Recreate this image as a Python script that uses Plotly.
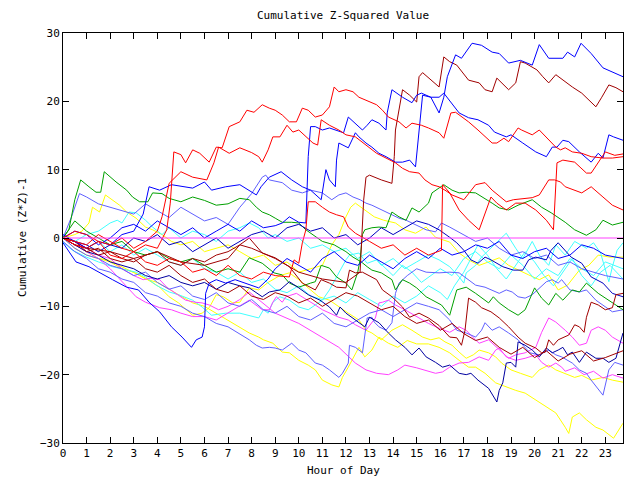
import plotly.graph_objects as go

# ---- data: (hour, cumulative value) pairs ----
red_a = [(0,0),(0.5,-0.5),(1,-1),(1.5,0.5),(2,-0.5),(2.5,-1.5),(3,-2),(3.5,-1),(4,-1.5),(4.4,1.2),(4.55,5.1),(4.7,12.6),(5,12.2),(5.2,11),(5.5,12.9),(5.8,12.4),(6.2,11.1),(6.5,13.3),(6.75,13.2),(7.05,16.3),(7.5,17),(7.8,18.7),(8.1,18.4),(8.45,19.5),(8.75,19),(9,18.7),(9.3,18),(9.6,17),(9.9,17),(10.15,19),(10.4,18.7),(10.7,17.7),(11,18),(11.3,19.2),(11.5,22.1),(11.7,21.4),(12,21.7),(12.3,21.4),(12.55,20.6),(12.85,20.2),(13.3,19.5),(13.55,18.7),(13.8,17.7),(14.25,17),(14.55,16.1),(14.8,16.8),(15.2,16.5),(15.5,16.1),(15.95,15.4),(16.15,14.6),(16.45,18.3),(16.65,18.4),(17.2,17),(17.6,15.8),(18.2,13.9),(18.4,13.9),(18.7,14.6),(18.9,14.1),(19.3,16.1),(19.45,15.8),(19.9,15.1),(20.2,15.8),(20.6,14.3),(20.9,13.3),(21.1,12.9),(21.3,13.2),(21.6,12.6),(22,12.4),(22.4,11.9),(22.9,11.7),(23.3,11.7),(23.75,11.9)]
red_b = [(0,0),(0.5,1),(1,0.5),(1.5,-0.5),(2,-1),(2.5,0),(3,-1.5),(3.5,-0.5),(4,1),(4.2,3.1),(4.5,8),(5,9.7),(5.5,8.9),(6.1,8.5),(6.4,11),(6.6,13.3),(7.05,12.4),(7.5,13.2),(8,12.5),(8.3,11.9),(8.45,11.1),(8.7,12.9),(8.9,14.8),(9.2,14.8),(9.5,16.5),(9.75,15.5),(10,15.8),(10.3,14.8),(10.6,13.9),(10.8,13.6),(10.95,17.3),(11.3,16.5),(11.7,15.8),(12,15.1),(12.4,14.8),(12.85,13.6),(13.3,12.4),(13.7,11.7),(14.1,11),(14.4,10.2),(14.7,9.7),(15.1,9.5),(15.35,8.5),(15.65,7.8),(15.95,7.5),(16.2,7),(16.5,6.3),(17,5.6),(17.5,7.8),(17.9,8.1),(18.2,7),(18.8,5.3),(19.1,5.6),(19.9,5.9),(20.2,6.3),(20.6,8.5),(20.85,8.5),(21.1,8.2),(21.3,7.5),(22,6.6),(22.4,7.5),(22.9,6),(23.3,4.8),(23.75,4.1)]
red_c = [(0,0),(0.5,-1),(1,-1.5),(1.5,-0.5),(2,-2.5),(2.5,-3),(3,-2),(3.5,-3.5),(4,-4),(4.5,-3),(5,-3.5),(5.5,-5),(6,-4.5),(6.5,-5.5),(7,-4),(7.5,-5.5),(8,-6),(8.5,-5),(9,-5.5),(9.6,-5.7),(9.8,-3.2),(10,-3.7),(10.15,-0.7),(10.3,1.2),(10.4,5.3),(10.7,5.3),(11,4.5),(11.3,3.8),(11.6,3.4),(11.9,3.1),(12.1,1.6),(12.4,0.7),(13,-0.5),(13.5,-1.5),(14,-1),(14.5,-2.5),(15,-1.5),(15.5,-2.5),(16.05,-1.8),(16.1,7.8),(16.4,6.6),(16.8,4.1),(17.2,2.6),(17.65,1.2),(18.15,6),(18.4,5.1),(18.8,4.1),(19.2,5.1),(19.6,5.1),(20.05,4.1),(20.5,2.6),(20.8,1.2),(20.95,11),(21.2,11.4),(21.7,11.1),(22.2,9.5),(22.4,9.5),(22.7,11),(23,12.6),(23.4,12.1),(23.75,12.3)]
darkred_a = [(0,0),(0.5,-0.5),(1,-1.5),(2,-2),(3,-3),(4,-2),(5,-3.5),(6,-4),(7,-3),(7.5,-1),(8,-1.5),(9,-3),(10,-5),(11,-6),(12,-6.5),(12.6,-5),(12.75,5.5),(12.85,8.9),(13,9.2),(13.5,8.5),(13.95,8),(14.05,11.9),(14.1,15.8),(14.4,21.7),(14.7,20.9),(15,19.9),(15.1,23.6),(15.25,24.2),(15.95,22.1),(16.15,26.5),(16.4,25.8),(16.7,25.3),(17.2,23.1),(17.65,22.7),(17.9,21.7),(18.2,21.4),(18.4,23.4),(18.6,22.7),(18.9,21.7),(19.2,22.7),(19.4,25.8),(19.6,25.6),(20.1,24.6),(20.35,23.6),(20.6,22.7),(20.9,23.9),(21.2,23.1),(21.6,22.1),(22,21.2),(22.6,19.2),(22.85,20.6),(23.15,22.4),(23.45,22),(23.75,21.4)]
darkred_b = [(0,0),(0.5,-1),(1,-1.5),(1.5,-2.5),(2,-2),(2.5,-3),(3,-3.5),(3.5,-2.5),(4,-2),(4.5,-3.5),(5,-4),(5.5,-3),(6,-3.5),(6.5,-2.5),(7,-2),(7.5,-1),(7.9,0),(8.45,-2.2),(9,-2.9),(9.6,-4.2),(10.15,-6.6),(10.7,-7.6),(10.95,-6.1),(11.3,-6.6),(11.6,-7.2),(12,-7.3),(12.15,-4.7),(12.4,-5.1),(12.7,-5),(13.3,-6.1),(13.55,-7.6),(13.95,-8.6),(14.4,-10.1),(14.7,-11.6),(15.1,-11),(15.5,-11.7),(15.95,-12.8),(16.4,-14.5),(16.7,-14.6),(16.9,-15.7),(17.05,-13.5),(17.2,-8.8),(17.5,-9.4),(17.75,-10.2),(18.15,-10.8),(18.5,-11.7),(18.9,-13),(19.3,-14.5),(19.6,-15.4),(20.05,-16.1),(20.3,-16.8),(20.45,-16.7),(20.6,-14.9),(20.8,-15.7),(21,-14.9),(21.25,-14.5),(21.45,-14.2),(21.7,-12.7),(21.9,-13),(22.1,-13.8),(22.2,-11.6),(22.4,-9.4),(22.7,-9.8),(23,-10.5),(23.3,-10.2),(23.45,-8.3),(23.75,-8.1)]
darkred_c = [(0,0),(0.5,-0.5),(1,-2),(1.5,-1.5),(2,-3),(2.5,-3.5),(3,-3),(3.5,-4.5),(4,-5),(4.5,-4),(5,-5.5),(5.5,-6.5),(6,-6),(6.5,-7.5),(7,-8),(7.5,-7),(8,-8.5),(8.5,-9),(9,-8),(9.5,-8.5),(10,-9.5),(10.5,-8.8),(11,-10),(11.5,-9),(12,-8),(12.5,-8.5),(13,-9.5),(13.5,-10.5),(14,-10),(14.5,-11.5),(15,-12.5),(15.5,-12),(16,-13.5),(16.5,-12.5),(17,-14),(17.5,-15),(18,-14.5),(18.5,-16),(19,-17),(19.5,-16),(20,-17.5),(20.5,-16.5),(21,-18),(21.5,-17),(22,-16.5),(22.5,-18),(23,-17.5),(23.75,-16.5)]
blue_a = [(0,0.5),(0.5,-0.5),(1,-1.5),(1.5,-0.5),(2,-1),(2.5,0.5),(3,1),(3.4,3.5),(3.65,7.5),(4.1,7),(4.6,7.8),(5.5,7.3),(6,8.2),(6.3,7),(6.9,7.5),(7.5,7.8),(8.2,6.3),(8.4,7.5),(8.75,8.9),(9.25,9.7),(9.7,8.5),(10.15,7.5),(10.5,7),(10.95,5.6),(11.15,10),(11.3,8.5),(11.55,7.5),(11.6,11.4),(11.7,13.9),(12.1,13.2),(12.4,15.4),(12.55,14.8),(12.85,13.9),(13.1,13.3),(13.4,12.4),(13.7,11.9),(14.1,11.1),(14.4,11.1),(14.7,11.4),(14.95,10.4),(15.1,15.8),(15.25,20.9),(15.6,20.6),(15.95,18.3),(16.15,20.6),(16.3,23.6),(16.65,26.8),(16.9,26.3),(17.35,28.5),(17.75,28.2),(18.2,27.2),(18.5,27),(18.9,25.6),(19.4,26),(19.9,25.3),(20.2,28.3),(20.6,26.3),(21.2,26.3),(21.4,27.2),(21.7,26.5),(21.97,28.5),(22.4,27),(22.9,24.9),(23.3,24.3),(23.75,23.6)]
blue_b = [(0,0),(0.5,1),(1,0.5),(1.5,-1),(2,0),(2.5,1.5),(3,2),(3.5,1),(4,2.5),(4.5,1.5),(5,0.5),(5.5,1.5),(6,0),(6.5,1),(7,2),(7.5,1),(8,2.5),(8.5,1.5),(9,1.8),(9.3,2.2),(9.6,3.1),(10,2.3),(10.3,2.2),(10.4,11.9),(10.5,16.3),(10.7,16.3),(11,15.8),(11.3,16.1),(11.6,15.8),(11.9,15.4),(12.1,17.7),(12.4,16.8),(12.7,15.8),(12.9,16.5),(13.1,17.3),(13.4,16.8),(13.7,15.8),(13.75,18.3),(13.95,21.7),(14.4,20.6),(14.8,19.8),(15,20.9),(15.2,21.2),(15.6,20.6),(15.95,20.6),(16.15,21.2),(16.8,18.3),(17.2,17.6),(17.6,17.3),(18.05,16.5),(18.3,15.5),(18.8,14.8),(19,15.1),(19.5,13.9),(20.05,12.6),(20.5,11.9),(20.75,13.3),(20.95,13.3),(21.2,14.3),(21.45,14.1),(21.9,12.6),(22.4,11.1),(22.7,12.4),(22.9,11.7),(23.15,15.1),(23.35,14.8),(23.75,14.3)]
blue_c = [(0,-0.7),(0.55,-3.5),(1.1,-4.2),(1.5,-5),(2.1,-6.1),(2.7,-7.2),(3.2,-7.6),(3.65,-9.4),(4.1,-10.8),(4.6,-13),(5.05,-14.5),(5.45,-16),(5.65,-14.9),(5.9,-14.5),(6,-13),(6.05,-8.1),(6.2,-6.6),(6.5,-6.1),(6.9,-6.6),(7.3,-6.1),(7.7,-6.6),(8.3,-7.3),(8.7,-6),(9,-4.5),(9.5,-3),(10,-4),(10.5,-5),(11,-3),(11.5,-2),(12,-3.5),(12.5,-4),(13,-2.5),(13.5,-3.5),(14,-4.5),(14.5,-3),(15,-2),(15.5,-3),(16,-1.5),(16.5,-2.5),(17,-2),(17.5,-1),(18,-1.5),(18.5,-0.5),(19,-2.5),(19.5,-3),(20,-2),(20.5,-1.5),(21,-3),(21.5,-2.5),(22,-1),(22.5,-1.5),(23,-2.5),(23.75,-3)]
navy_a = [(0,0),(0.5,-1),(1,-2),(1.5,-2.5),(2,-3.5),(2.5,-4),(3,-4.5),(3.5,-5.5),(4,-6),(4.5,-5.5),(5,-6.5),(5.5,-7),(6,-6.5),(6.5,-7.5),(7,-6.5),(7.5,-7),(7.9,-7.3),(8.45,-8.6),(8.75,-7.9),(9.2,-7.6),(9.6,-6.4),(10,-7.3),(10.4,-8.3),(10.9,-9.1),(11.3,-10.1),(11.6,-11.3),(11.75,-10.1),(12,-11),(12.4,-12),(12.8,-13),(13,-11.6),(13.4,-12.4),(13.8,-13.9),(14.1,-14.9),(14.5,-16),(14.8,-17.1),(15.1,-16.1),(15.4,-17.4),(15.8,-18.2),(16.1,-18.9),(16.4,-18.6),(16.8,-19.8),(17.1,-20),(17.3,-19.8),(17.6,-20.8),(18.05,-22),(18.4,-24),(18.5,-22.3),(18.65,-21.2),(18.8,-18.3),(19,-18.2),(19.2,-18.9),(19.3,-15.2),(19.6,-15.7),(19.9,-16.4),(20.2,-17.4),(20.5,-16.1),(20.75,-16.8),(21,-16.4),(21.2,-16),(21.4,-17.1),(21.6,-16.7),(21.9,-18.2),(22.2,-16.7),(22.6,-17.6),(22.9,-17.6),(23.15,-18.2),(23.45,-17.6),(23.75,-13.9)]
navy_b = [(0,0),(0.5,-0.5),(1,-1),(1.5,-2),(2,-1),(2.5,-1.5),(3,0),(3.5,-0.5),(4,0.5),(4.5,-1),(5,-0.5),(5.5,-2),(6,-1),(6.5,0),(7,-1.5),(7.5,-0.5),(8,0.5),(8.5,1),(9,0),(9.5,1.5),(10,2),(10.5,1),(11,1.5),(11.5,0),(12,0.5),(12.5,-1),(13,0),(13.5,1.5),(14,0.5),(14.5,1.5),(15,2.5),(15.5,2),(15.95,1.2),(16.4,0.1),(16.7,-0.7),(17,-1.8),(17.3,-3.2),(17.6,-3.7),(17.9,-2.8),(18.15,-3.2),(18.65,-4.2),(19.1,-4.7),(19.5,-4.7),(19.75,-3.2),(20.05,-2.8),(20.5,-3.2),(20.7,-1.8),(21,-0.7),(21.3,-1.8),(21.55,-2.8),(22,-3.7),(22.4,-5.7),(22.9,-6.6),(23.3,-8.1),(23.75,-8.6)]
lightblue_a = [(0,-0.5),(0.5,-2),(1,-3),(1.5,-4.5),(2,-5),(2.5,-6),(3,-6.5),(3.5,-8),(4,-8.5),(4.5,-9.5),(5,-10),(5.5,-11),(6,-11.5),(6.5,-12.5),(7,-13),(7.5,-14),(7.9,-14.9),(8.2,-15.7),(8.45,-16.1),(8.75,-16),(9,-16.1),(9.3,-16.4),(9.7,-15.4),(10,-16.4),(10.3,-16.8),(10.7,-18.3),(11,-18.6),(11.3,-19.3),(11.7,-20.4),(11.85,-19.8),(12.1,-18.3),(12.15,-15.7),(12.4,-16),(12.7,-16.8),(12.8,-13.9),(12.9,-11.7),(13.1,-11.6),(13.2,-12.3),(13.4,-13),(13.7,-13.5),(13.95,-12.4),(14.1,-8.1),(14.25,-6.6),(14.6,-5.5),(15,-4.5),(15.4,-5),(15.95,-5.1),(16.4,-5),(16.8,-5.1),(17.2,-6.1),(17.5,-6.9),(17.9,-7.2),(18.2,-7.6),(18.5,-8.1),(18.8,-7.6),(19.05,-7.9),(19.3,-8.6),(19.6,-8.8),(19.9,-8.3),(20.2,-7.3),(20.5,-6.4),(20.75,-6.1),(21,-6.6),(21.15,-6.1),(21.5,-7.6),(21.9,-7.9),(22.2,-7.6),(22.6,-9.1),(23,-10.1),(23.3,-10.8),(23.75,-10.5)]
lightblue_b = [(0,0),(0.5,-1.5),(1,-2.5),(1.5,-3),(2,-4),(2.5,-4.5),(3,-5.5),(3.5,-5),(4,-6.5),(4.5,-7.5),(5,-7),(5.5,-8.5),(6,-9),(6.5,-8),(7,-9.5),(7.5,-10),(8,-9),(8.5,-10.5),(9,-11),(9.5,-10),(10,-11.5),(10.5,-12),(11,-11),(11.5,-12.5),(12,-13),(12.5,-12),(13,-11),(13.5,-10.5),(14,-11.5),(14.5,-10.5),(15,-9.5),(15.5,-10),(15.95,-10.5),(16.4,-12),(16.7,-13.5),(17.1,-13.9),(17.5,-14.5),(17.75,-13.5),(17.9,-12.4),(18.2,-13.5),(18.5,-13),(18.9,-13.9),(19.3,-14.9),(19.8,-16.8),(20.2,-17.1),(20.6,-16.4),(20.9,-17.1),(21.15,-17.4),(21.6,-18.3),(21.9,-19.3),(22.2,-19.8),(22.4,-20.8),(22.9,-23),(23.15,-19.3),(23.4,-18.2),(23.75,-18.6)]
lightblue_c = [(0,0),(0.35,3),(0.7,6.5),(1,6),(1.5,5),(2,4.5),(2.5,4),(3,3.5),(3.5,5),(4,4),(4.5,3),(5,4.5),(5.5,3.5),(6,2.5),(6.5,3),(7,2),(7.5,4.5),(8,6.5),(8.45,8.9),(8.6,9.2),(8.75,8.5),(9.3,8.1),(9.7,7),(10.15,6.6),(10.5,7),(11,6.6),(11.4,5.6),(11.7,6.3),(12,6.6),(12.3,6),(12.6,5.6),(12.85,5.1),(13.1,4.8),(13.55,4.1),(13.95,3.4),(14.25,2.9),(14.55,2.6),(15,1.9),(15.4,1.2),(15.8,0.9),(16.05,2.2),(16.4,1.6),(17,0.5),(17.5,-0.5),(18,0),(18.5,-1.5),(19,-2.5),(19.5,-2),(20,-3),(20.5,-2.5),(21,-4),(21.5,-3.5),(22,-4.5),(22.5,-5),(23,-5.5),(23.75,-6)]
green_a = [(0,0),(0.25,1.2),(0.5,5.6),(0.75,8.5),(1.1,7.5),(1.4,6.7),(1.6,6.7),(1.75,9.7),(2.25,8.2),(2.7,7),(2.95,6),(3.25,5.3),(3.6,5.3),(3.8,6.6),(4.2,6.5),(4.5,5.8),(5,5.3),(5.5,6),(6,5.5),(6.5,4.8),(7,5),(7.5,5.8),(7.9,5.6),(8.2,4.5),(8.45,3.8),(8.75,3.4),(9,2.9),(9.3,2.3),(9.7,2.3),(10,2.2),(10.3,1.2),(10.7,0.3),(11,-0.5),(11.5,-1),(12,-2),(12.3,-2.8),(12.65,-3.5),(12.9,-4.2),(13.1,-4.7),(13.5,-5.1),(13.95,-6.1),(14.1,-7.6),(14.4,-6.1),(14.7,-6.6),(15,-7.3),(15.4,-8.6),(15.8,-9.4),(16.05,-9.8),(16.4,-11.3),(16.7,-7.6),(17.1,-7.2),(17.5,-8.1),(18.05,-9.5),(18.25,-8.6),(18.5,-9.5),(18.9,-10.5),(19.3,-11.3),(19.6,-10.5),(20,-7.3),(20.3,-8.8),(20.6,-9.8),(20.9,-8.1),(21.2,-9.1),(21.6,-7.6),(21.9,-7.9),(22.2,-6.6),(22.7,-8.1),(23.3,-9.4),(23.75,-10.5)]
green_b = [(0,0),(0.3,1.5),(0.5,2.5),(1,1),(1.5,0),(2,-1),(2.5,-0.5),(3,-2),(3.5,-2.5),(4,-2),(4.5,-3),(5,-3.5),(5.5,-3),(6,-4),(6.5,-5),(7,-4.5),(7.5,-5),(7.9,-2.9),(8.45,-3.7),(8.95,-5.1),(9.3,-5.4),(9.6,-6.6),(10,-7.2),(10.5,-6.6),(10.7,-6.4),(10.95,-4),(11.3,-4.4),(11.6,-5.7),(12,-6.6),(12.25,-7.6),(12.5,-5),(12.6,-3.2),(12.7,0.5),(12.8,1.2),(13.1,1.5),(13.4,1.6),(13.7,1.5),(13.95,3.8),(14.25,3.1),(14.55,2.6),(14.8,4.4),(15.1,3.8),(15.5,5.1),(15.65,6.6),(16.15,7.8),(16.5,7),(16.8,6.6),(17.1,6.7),(17.5,6.6),(18.2,5.1),(18.5,4.4),(18.9,4.1),(19.3,4.8),(19.9,5.6),(20.3,4.5),(20.7,3.7),(21.3,2.3),(21.7,1.2),(22.2,0.4),(22.6,1.2),(22.9,2.6),(23.3,1.9),(23.75,2.3)]
cyan_a = [(0,0),(0.5,-0.5),(1,0.5),(1.5,1),(2,2.2),(2.3,2.6),(2.5,2.2),(2.8,3.8),(3.1,3.7),(3.5,2.6),(3.8,1.6),(4.2,0.5),(4.5,1.5),(5,0),(5.5,1),(6,0.5),(6.5,-0.5),(7,1),(7.5,1.5),(7.9,2.2),(8.3,1.5),(8.7,0),(9,0.5),(9.5,-0.5),(10,0),(10.5,-1.5),(11,-1),(11.5,-2),(12,-1.5),(12.5,-3),(13,-2),(13.5,-4),(14,-3),(14.5,-4.5),(15,-3.5),(15.5,-2.5),(15.95,-3.2),(16.4,-4.2),(16.8,-5.7),(17,-6.6),(17.1,-5.1),(17.5,-4),(17.75,-2.8),(18.05,-1.8),(18.5,-0.3),(18.8,0.7),(19.2,-1.5),(19.5,-3),(19.9,-0.5),(20.2,-2.5),(20.6,-4),(20.9,-1),(21.3,-2.5),(21.7,-0.5),(22.2,-1.5),(22.5,-0.7),(22.8,-2.2),(23.15,-6.4),(23.3,-4.2),(23.5,-1.8),(23.75,-0.7)]
cyan_b = [(0,-0.6),(0.4,-1.8),(1,-2.8),(1.5,-3.5),(2.1,-4.2),(2.7,-4.7),(3.1,-5),(3.5,-5.7),(3.95,-6.9),(4.5,-7.9),(4.9,-8.3),(5.5,-9.1),(5.9,-10.1),(6.3,-11.3),(6.9,-11),(7.5,-11),(7.9,-11.3),(8.3,-11.7),(8.5,-10.5),(8.7,-11),(8.9,-9.4),(9.2,-8.6),(9.6,-9.1),(10,-10.1),(10.4,-10.5),(10.7,-9.8),(11,-9.1),(11.3,-7.6),(11.6,-5.7),(12,-3.2),(12.15,-2.5),(12.55,-2.2),(12.9,-3.7),(13.3,-3.2),(13.7,-4.5),(14,-5.5),(14.4,-4),(14.8,-5),(15.2,-6.5),(15.6,-5.5),(16,-4.5),(16.5,-5.5),(17,-3),(17.5,-2),(18,-3.5),(18.5,-4.5),(19,-2.5),(19.5,-4),(20,-6),(20.5,-4.5),(21,-5.5),(21.5,-3),(22,-4.5),(22.5,-5.5),(23,-3.5),(23.75,-4.5)]
cyan_c = [(0,0),(0.5,-1),(1,-1.5),(1.5,-0.5),(2,-2),(2.5,-1),(3,-2.5),(3.5,-1.5),(4,-2.5),(4.5,-3.5),(5,-4),(5.5,-3),(6,-4.5),(6.5,-5),(7,-6),(7.5,-5),(8,-6.5),(8.5,-6),(9,-7.5),(9.5,-8),(10,-7),(10.5,-8.5),(11,-9),(11.5,-8.5),(12,-9.5),(12.5,-8),(13,-9),(13.5,-10),(14,-8.5),(14.5,-9.5),(15,-8.5),(15.5,-7),(16,-8),(16.3,-9),(16.6,-7),(17,-5),(17.3,-3),(17.6,-1),(18,-2.5),(18.4,-4.5),(18.8,-6),(19.2,-4),(19.6,-2),(20,-3.5),(20.4,-5.5),(20.8,-7),(21.2,-5),(21.6,-3),(22,-5.5),(22.4,-7),(22.8,-5),(23.2,-4),(23.75,-6)]
magenta_a = [(0,0),(0.5,-1),(1,-2),(1.5,-3),(2,-4.5),(2.7,-7.2),(3.1,-8.6),(3.5,-9.4),(4.1,-10.2),(4.6,-10.5),(5,-11),(5.5,-11.5),(6,-11.5),(6.5,-12),(7,-11),(7.5,-10),(7.9,-9.1),(8.45,-10.5),(8.75,-10.5),(8.9,-9.4),(9.05,-8.6),(9.3,-9.4),(9.45,-8.6),(9.9,-8.1),(10.15,-8.6),(10.4,-9.1),(10.7,-9.8),(11,-10.5),(11.3,-11),(11.7,-11.6),(12.1,-12),(12.4,-12.7),(12.85,-13.5),(13.25,-11.7),(13.4,-9.5),(13.55,-9.4),(13.8,-9.1),(14.1,-9.8),(14.5,-10.5),(15,-11.5),(15.5,-12.5),(15.95,-13.2),(16.4,-13.8),(16.8,-13),(17.1,-13.5),(17.4,-14.6),(17.65,-15.4),(18.05,-14.9),(18.5,-16.4),(18.9,-17.6),(19.2,-17.1),(19.6,-16.8),(20.05,-16),(20.3,-13.8),(20.6,-11.7),(20.9,-12.3),(21.3,-13.5),(21.6,-14.5),(21.9,-15.7),(22.2,-15.4),(22.4,-13.5),(22.7,-13),(23,-13.5),(23.3,-14.5),(23.75,-15.4)]
magenta_b = [(0,0),(0.5,-0.5),(1,-1.5),(1.5,-2.5),(2,-3),(2.5,-4.5),(3,-5.5),(3.4,-6.1),(3.7,-5.9),(4.1,-6.1),(4.4,-7.2),(4.8,-8.1),(5.2,-9.1),(5.6,-9.4),(5.9,-9.5),(6.2,-9.8),(6.6,-10.5),(7,-10),(7.5,-9),(7.9,-7.9),(8.45,-9.5),(9,-11),(10,-12.5),(11,-14.5),(11.7,-16),(12.4,-18.3),(12.85,-19.3),(13.3,-19.8),(13.8,-20),(14.2,-19.3),(14.5,-18.6),(15,-19),(15.8,-19.8),(16.1,-19.6),(16.4,-18.9),(16.8,-18.3),(17.2,-18.2),(17.65,-17.4),(18.05,-17.9),(18.35,-16.4),(18.5,-16.1),(18.8,-17.4),(19.2,-17.9),(19.6,-17.6),(20.05,-17.1),(20.3,-18.2),(20.6,-18.9),(20.9,-18.3),(21.15,-18.9),(21.3,-19.5),(21.7,-19),(22.1,-20),(22.5,-19.5),(22.9,-20.5),(23.3,-20),(23.75,-20.5)]
yellow_a = [(0,0),(0.5,-1),(1,-2),(1.5,-3),(2,-3.5),(2.5,-4.5),(3,-5),(3.5,-6),(4,-6.5),(4.5,-7.5),(5,-8.5),(5.5,-9.5),(6,-10),(6.5,-11),(7,-12),(7.5,-13),(7.9,-13.9),(8.3,-14.5),(8.5,-14.9),(8.9,-15.4),(9.3,-16.7),(9.6,-16.8),(10,-17.9),(10.4,-18.6),(10.7,-19.3),(11,-20.8),(11.4,-21.5),(11.7,-21.8),(11.85,-20.4),(12.1,-18.9),(12.4,-17.1),(12.55,-16),(12.8,-17.4),(13.1,-16.4),(13.4,-14.5),(13.6,-14.9),(13.8,-15.4),(14.2,-16),(14.6,-15),(15,-15.5),(15.5,-15.5),(15.95,-16),(16.4,-16.8),(16.8,-17.9),(17.2,-18.9),(17.5,-18.9),(17.9,-19.8),(18.35,-21.2),(18.8,-21.8),(19.2,-22.3),(19.6,-22.7),(20.05,-23.7),(20.5,-24.7),(20.9,-25.6),(21.3,-27.7),(21.45,-28.6),(21.6,-26.2),(21.9,-25.6),(22.2,-26.6),(22.6,-27.7),(22.9,-28.1),(23.15,-28.8),(23.35,-29.3),(23.75,-27.1)]
yellow_b = [(0,0),(0.5,-1.5),(1,-2.5),(1.5,-3),(1.9,-3.2),(2.5,-4.2),(3,-5.1),(3.5,-5.9),(4.1,-7.2),(4.5,-8.6),(4.9,-9.5),(5.5,-11.3),(5.9,-11),(6.2,-10.2),(6.5,-8.3),(6.8,-8.6),(7.2,-9.5),(7.5,-9.4),(7.9,-7.3),(8.3,-7.6),(8.7,-6.5),(9.2,-5.5),(9.6,-5.1),(10,-6.1),(10.4,-7.3),(10.85,-8.6),(11.3,-9.1),(11.7,-10.1),(12.1,-11),(12.55,-12),(12.85,-13.5),(13.1,-13.9),(13.5,-14.9),(13.95,-13.5),(14.4,-12.7),(14.8,-13.5),(15.25,-14.5),(15.6,-14.9),(15.95,-14.6),(16.2,-15.2),(16.5,-15.7),(16.8,-16.7),(17.1,-17.6),(17.4,-17.1),(17.65,-16.4),(18.05,-16.8),(18.35,-17.4),(18.6,-18.3),(19,-19.3),(19.4,-19.8),(19.9,-20.4),(20.2,-19.3),(20.6,-18.6),(20.9,-19.3),(21.3,-19.8),(21.7,-20.4),(22,-20.1),(22.4,-20.8),(22.9,-20.4),(23.3,-20.8),(23.75,-21.1)]
yellow_c = [(0,0),(0.5,0.5),(0.8,1),(1.1,2.2),(1.25,4.5),(1.55,3.8),(1.8,6.3),(2.1,5.6),(2.4,4.8),(2.7,3.8),(3.1,2.9),(3.5,1.6),(3.8,1.2),(4.2,0.5),(4.6,-0.5),(5,-1),(5.5,-0.5),(6,-2),(6.5,-1.5),(7,-1),(7.5,-2),(8,-3),(8.5,-2.5),(9,-4),(9.5,-3.5),(10,-5),(10.5,-4.5),(11,-4),(11.4,-1),(11.7,0.5),(12,3.1),(12.2,4.5),(12.4,5.1),(12.8,4.1),(13.2,3.1),(13.6,2.6),(14.1,2.2),(14.5,1.2),(14.95,0.7),(15.4,1.6),(15.8,0.1),(16.4,-0.6),(16.8,-2.2),(17.2,-3.2),(17.65,-4),(18.05,-3.5),(18.5,-2.9),(18.9,-4),(19.3,-4.7),(19.75,-5.4),(20.2,-6.1),(20.6,-5.4),(21,-7.6),(21.4,-6.9),(21.9,-4.7),(22.3,-4),(22.7,-2.5),(23.2,-2.8),(23.75,-2.8)]
zero_line = [(0,0),(23.75,0)]

x_ticks = list(range(0, 24))
y_ticks = [-30, -20, -10, 0, 10, 20, 30]

series = [
    (yellow_a, "#ffff00"), (yellow_b, "#ffff00"), (yellow_c, "#ffff00"),
    (cyan_a, "#40ffff"), (cyan_b, "#40ffff"), (cyan_c, "#40ffff"),
    (magenta_a, "#ff40ff"), (magenta_b, "#ff40ff"),
    (lightblue_a, "#6060ff"), (lightblue_b, "#6060ff"), (lightblue_c, "#6060ff"),
    (green_a, "#00a000"), (green_b, "#00a000"),
    (navy_a, "#0000a0"), (navy_b, "#0000c0"),
    (darkred_a, "#a00000"), (darkred_b, "#a00000"), (darkred_c, "#a00000"),
    (blue_a, "#0000ff"), (blue_b, "#0000ff"), (blue_c, "#0000ff"),
    (red_a, "#ff0000"), (red_b, "#ff0000"), (red_c, "#ff0000"),
    (zero_line, "#ff40ff"),
]

fig = go.Figure()
for pts, col in series:
    fig.add_trace(go.Scatter(
        x=[p[0] for p in pts], y=[p[1] for p in pts],
        mode="lines", line=dict(color=col, width=1),
        hoverinfo="skip", showlegend=False))

font = dict(family="DejaVu Sans Mono", size=11, color="black")
axis_common = dict(showgrid=False, zeroline=False, showline=True, linecolor="black",
                   linewidth=1, mirror="ticks", ticks="inside", ticklen=6,
                   tickcolor="black", tickfont=font)
fig.update_xaxes(range=[0, 23.75], tickvals=x_ticks, **axis_common)
fig.update_yaxes(range=[-30, 30], tickvals=y_ticks, **axis_common)

fig.update_layout(
    width=640, height=480,
    margin=dict(l=63, r=17, t=33, b=37),
    paper_bgcolor="white", plot_bgcolor="white",
    font=font,
    title=dict(text="Cumulative Z-Squared Value", x=0.5, xref="paper",
               y=1 - 15/480, yref="container", yanchor="middle", xanchor="center",
               font=font),
    annotations=[
        dict(text="Hour of Day", x=0.5, xref="paper", y=0, yref="paper",
             yshift=-27, yanchor="middle", xanchor="center", showarrow=False, font=font),
        dict(text="Cumulative (Z*Z)-1", x=0, xref="paper", y=0.5, yref="paper",
             xshift=-41, xanchor="center", yanchor="middle", textangle=-90,
             showarrow=False, font=font),
    ],
)
fig.write_html("out.html")
